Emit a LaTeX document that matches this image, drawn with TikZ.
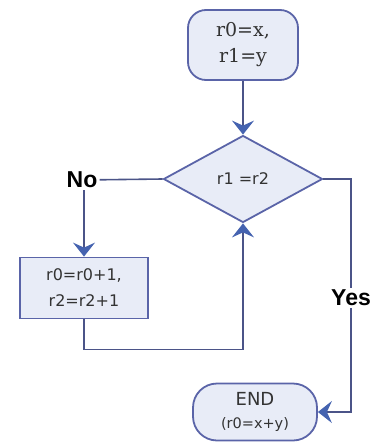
\documentclass[tikz,border=0pt]{standalone}
\usepackage{fontspec}
\setmainfont{DejaVu Serif}
\setsansfont{DejaVu Sans}
\newfontfamily\labelfont{Liberation Sans}
\usetikzlibrary{arrows.meta,shapes.geometric}

\definecolor{boxfill}{HTML}{E8ECF7}
\definecolor{boxline}{HTML}{5A64A8}
\definecolor{wire}{HTML}{4B5488}
\definecolor{tipblue}{HTML}{4563B0}

\begin{document}
\begin{tikzpicture}[x=1pt, y=-1pt, >={Stealth[length=14pt,width=22pt,inset=5pt,color=tipblue]},
  flow/.style={draw=boxline, line width=1.8pt, fill=boxfill, align=center, text=black!80, font=\sffamily\fontsize{16}{26}\selectfont},
  answer/.style={font=\labelfont\bfseries\fontsize{23}{26}\selectfont, inner sep=2pt},
  wirepath/.style={draw=wire, line width=1.6pt}]
  \useasboundingbox (0,0) rectangle (373,444);

  % terminals, test and the loop body
  \node[flow, rounded corners=18pt, minimum width=110pt, minimum height=70pt,
        font=\rmfamily\fontsize{19}{26}\selectfont] (start) at (243,45) {r0=x,\\r1=y};
  \node[flow, diamond, aspect=1.83, minimum width=159pt, minimum height=87pt, inner sep=0pt,
        font=\sffamily\fontsize{16}{20}\selectfont] (test) at (243,179) {r1 =r2};
  \node[flow, rounded corners=0pt, minimum width=128pt, minimum height=61pt] (step) at (84,288) {r0=r0+1,\\r2=r2+1};
  \node[flow, rounded corners=24pt, minimum width=124pt, minimum height=57pt,
        font=\sffamily\fontsize{14.5}{23}\selectfont] (done) at (255,412) {{\fontsize{18}{23}\selectfont END}\\(r0=x+y)};

  % branch labels
  \node[answer] (no) at (82,180) {No};
  \node[answer] (yes) at (351,298) {Yes};

  % connectors
  \draw[wirepath] (test.west) -- (no);
  \draw[wirepath, ->] (no.south -| step) -- (step);
  \draw[wirepath, ->] (start) -- (test);
  \draw[wirepath, ->] (step.south) -- ++(0,30) -| (test.south);
  \draw[wirepath] (test.east) -| (yes.north);
  \draw[wirepath, ->] (yes.south) |- (done.east);
\end{tikzpicture}
\end{document}
